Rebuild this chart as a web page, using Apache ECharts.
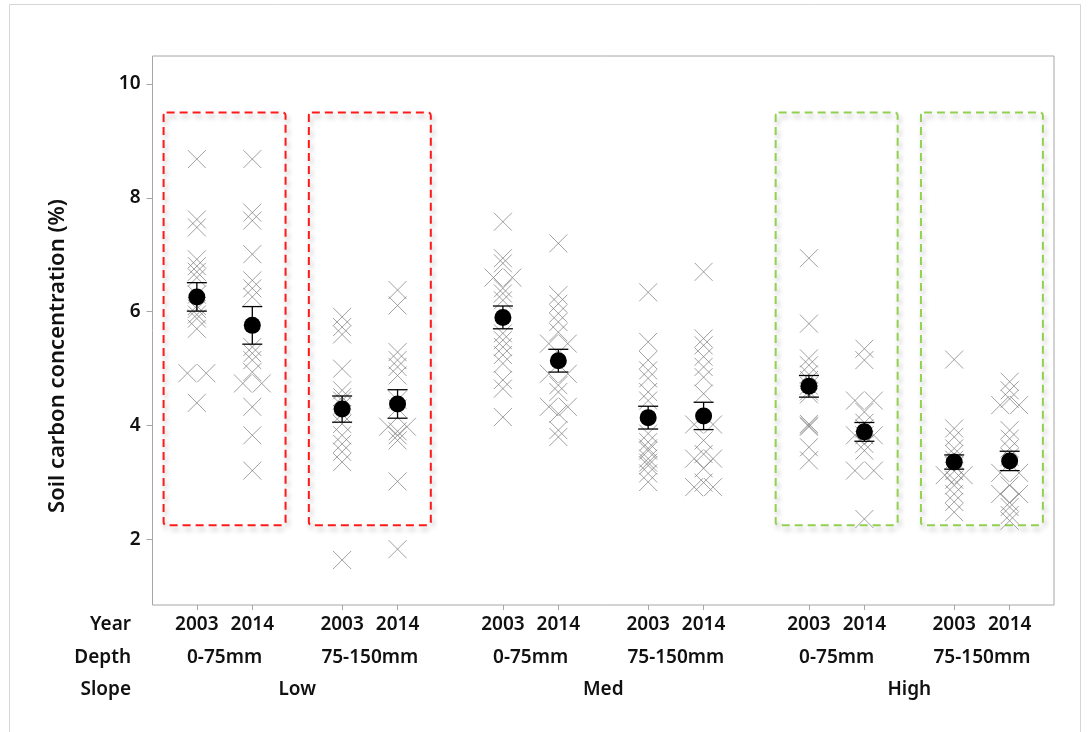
<!DOCTYPE html>
<html>
<head>
<meta charset="utf-8">
<script src="https://cdn.jsdelivr.net/npm/echarts@6/dist/echarts.min.js"></script>
<style>
  html, body { margin: 0; padding: 0; background: #fff; }
  #chart { width: 1088px; height: 732px; }
</style>
</head>
<body>
<div id="chart"></div>
<script>
// ---- Data --------------------------------------------------------------
// Grouping factors (plotting order: Slope > Depth > Year)
const slopes = ['Low', 'Med', 'High'];
const depths = ['0-75mm', '75-150mm'];
const years = ['2003', '2014'];

// Individual soil carbon readings (%) for each Slope / Depth / Year group
const lowShallow2003  = [8.68, 7.62, 7.48, 6.92, 6.80, 6.70, 6.60, 6.30, 6.10, 6.05, 5.95, 5.88, 5.70, 4.92, 4.92, 4.40];
const lowShallow2014  = [8.68, 7.74, 7.60, 7.01, 6.55, 6.41, 6.26, 5.38, 5.27, 5.15, 4.94, 4.74, 4.74, 4.33, 3.83, 3.21];
const lowDeep2003     = [5.91, 5.73, 5.60, 5.00, 4.62, 4.50, 4.44, 4.35, 4.20, 4.03, 3.83, 3.68, 3.54, 3.36, 1.64];
const lowDeep2014     = [6.38, 6.11, 5.29, 5.15, 5.03, 4.88, 4.45, 4.30, 3.98, 3.98, 3.90, 3.83, 3.74, 3.02, 1.83];
const medShallow2003  = [7.58, 6.94, 6.85, 6.60, 6.60, 6.41, 6.32, 6.20, 5.62, 5.50, 5.38, 5.24, 5.09, 4.80, 4.65, 4.15];
const medShallow2014  = [7.20, 6.29, 6.14, 5.97, 5.82, 5.64, 5.44, 5.44, 4.91, 4.91, 4.71, 4.59, 4.33, 4.33, 4.21, 3.92, 3.80];
const medDeep2003     = [6.34, 5.47, 5.15, 4.97, 4.83, 4.59, 4.44, 3.86, 3.71, 3.60, 3.56, 3.42, 3.35, 3.30, 3.16, 3.01];
const medDeep2014     = [6.70, 5.53, 5.41, 5.21, 5.03, 4.85, 4.56, 4.02, 4.02, 3.74, 3.50, 3.42, 3.42, 3.25, 3.00, 2.92, 2.92];
const highShallow2003 = [6.94, 5.79, 5.18, 5.06, 4.90, 4.80, 4.70, 4.60, 4.55, 4.03, 4.00, 3.98, 3.62, 3.39];
const highShallow2014 = [5.35, 5.15, 4.44, 4.44, 4.24, 4.05, 3.95, 3.83, 3.83, 3.83, 3.68, 3.56, 3.21, 3.21, 2.36];
const highDeep2003    = [5.16, 3.95, 3.80, 3.60, 3.50, 3.40, 3.30, 3.20, 3.13, 3.13, 3.05, 2.95, 2.80, 2.66, 2.48];
const highDeep2014    = [4.77, 4.62, 4.47, 4.36, 4.36, 3.92, 3.77, 3.60, 3.45, 3.17, 3.17, 2.95, 2.80, 2.80, 2.65, 2.57, 2.43, 2.33];

const groupValues = [
  lowShallow2003, lowShallow2014, lowDeep2003, lowDeep2014,
  medShallow2003, medShallow2014, medDeep2003, medDeep2014,
  highShallow2003, highShallow2014, highDeep2003, highDeep2014
];

// Group means (%) and their standard errors
const groupMeans = [6.26, 5.76, 4.29, 4.38, 5.90, 5.14, 4.14, 4.17, 4.69, 3.89, 3.36, 3.38];
const groupSE    = [0.25, 0.33, 0.23, 0.25, 0.20, 0.20, 0.20, 0.24, 0.19, 0.165, 0.125, 0.17];

// Y-axis tick labels
const yTicks = [2, 4, 6, 8, 10];

// ---- Layout ------------------------------------------------------------
const DEPTH_STEP = 2.62;   // offset between depth blocks within a slope
const SLOPE_STEP = 5.52;   // offset between slope blocks
const JITTER = 0.17;       // horizontal spread for tied readings
const BOX_HALF = 1.1;      // half width of highlight boxes
const BOX_TOP = 9.5, BOX_BOTTOM = 2.25;
const highlight = { Low: '#ff1a1a', High: '#92d050' };

const FONT = "'Noto Sans', 'Open Sans', 'DejaVu Sans', sans-serif";
const TXT = '#111';
const FS = 19;

function groupPos(i) {
  const s = Math.floor(i / 4), d = Math.floor(i / 2) % 2, y = i % 2;
  return y + d * DEPTH_STEP + s * SLOPE_STEP;
}
const yearPos = groupValues.map((_, i) => groupPos(i));
const yearNames = groupValues.map((_, i) => years[i % 2]);
const pairPos = [], pairNames = [], pairSlope = [];
for (let s = 0; s < slopes.length; s++) {
  for (let d = 0; d < depths.length; d++) {
    pairPos.push(0.5 + d * DEPTH_STEP + s * SLOPE_STEP);
    pairNames.push(depths[d]);
    pairSlope.push(slopes[s]);
  }
}
const slopePos = slopes.map((_, s) => (pairPos[2 * s] + pairPos[2 * s + 1]) / 2);

function nameAt(positions, names) {
  return v => {
    let best = 0;
    positions.forEach((p, k) => { if (Math.abs(p - v) < Math.abs(positions[best] - v)) best = k; });
    return names[best];
  };
}

// Individual readings, ties spread side by side
const pointData = [];
groupValues.forEach((vals, i) => {
  const count = {}, used = {};
  vals.forEach(v => { count[v] = (count[v] || 0) + 1; });
  vals.forEach(v => {
    const n = count[v], k = used[v] || 0;
    used[v] = k + 1;
    const off = n === 1 ? 0 : (-1 + 2 * k / (n - 1)) * JITTER;
    pointData.push([groupPos(i) + off, v]);
  });
});

const meanData = groupMeans.map((m, i) => [groupPos(i), m, groupSE[i]]);
const boxData = [];
pairPos.forEach((p, k) => { if (highlight[pairSlope[k]]) boxData.push([p, k]); });

// ---- Chart -------------------------------------------------------------
const chart = echarts.init(document.getElementById('chart'), null, { renderer: 'canvas' });

const xBase = {
  type: 'value', min: -0.8, max: 15.46, gridIndex: 0, position: 'bottom',
  axisLine: { show: false, onZero: false }, splitLine: { show: false }
};
const labelFont = { fontFamily: FONT, fontSize: FS, fontWeight: 600, color: TXT };

chart.setOption({
  animation: false,
  backgroundColor: '#fff',
  grid: {
    left: 152.5, top: 56, right: 34, bottom: 127,
    show: true, borderColor: '#a6a6a6', borderWidth: 1, backgroundColor: 'transparent'
  },
  xAxis: [
    Object.assign({}, xBase, {
      axisTick: { show: true, customValues: yearPos, length: 5, lineStyle: { color: '#a6a6a6' } },
      axisLabel: Object.assign({ customValues: yearPos, formatter: nameAt(yearPos, yearNames), margin: 10 }, labelFont)
    }),
    Object.assign({}, xBase, {
      offset: 33, axisTick: { show: false },
      axisLabel: Object.assign({ customValues: pairPos, formatter: nameAt(pairPos, pairNames), margin: 10 }, labelFont)
    }),
    Object.assign({}, xBase, {
      offset: 65, axisTick: { show: false },
      axisLabel: Object.assign({ customValues: slopePos, formatter: nameAt(slopePos, slopes), margin: 10 }, labelFont)
    })
  ],
  yAxis: {
    type: 'value', min: 0.85, max: 10.49, position: 'left',
    axisLine: { show: false, onZero: false }, splitLine: { show: false },
    axisTick: { show: true, customValues: yTicks, length: 6, lineStyle: { color: '#a6a6a6' } },
    axisLabel: Object.assign({ customValues: yTicks, margin: 12 }, labelFont)
  },
  graphic: [
    {
      type: 'rect', silent: true, z: -10,
      shape: { x: 9.5, y: 4.5, width: 1071, height: 760 },
      style: { fill: 'none', stroke: '#d6d6d6', lineWidth: 1 }
    },
    {
      type: 'text', silent: true,
      x: 58, y: 356, rotation: Math.PI / 2,
      style: {
        text: 'Soil carbon concentration (%)', align: 'center', verticalAlign: 'middle',
        font: '600 22px ' + FONT, fill: TXT
      }
    },
    ...['Year', 'Depth', 'Slope'].map((t, k) => ({
      type: 'text', silent: true,
      x: 131, y: 625 + k * 32.5,
      style: {
        text: t, align: 'right', verticalAlign: 'middle',
        font: '600 ' + FS + 'px ' + FONT, fill: TXT
      }
    }))
  ],
  series: [
    {
      // dashed highlight boxes
      type: 'custom', xAxisIndex: 0, silent: true, z: 1,
      data: boxData,
      encode: { x: 0 },
      renderItem: (params, api) => {
        const c = api.value(0);
        const color = highlight[pairSlope[api.value(1)]];
        const tl = api.coord([c - BOX_HALF, BOX_TOP]);
        const br = api.coord([c + BOX_HALF, BOX_BOTTOM]);
        return {
          type: 'rect',
          shape: { x: tl[0], y: tl[1], width: br[0] - tl[0], height: br[1] - tl[1], r: 3 },
          style: {
            fill: 'none', stroke: color, lineWidth: 2, lineDash: [8, 5],
            shadowBlur: 5, shadowColor: 'rgba(0,0,0,0.28)', shadowOffsetX: 2, shadowOffsetY: 4
          }
        };
      }
    },
    {
      // individual readings
      type: 'scatter', xAxisIndex: 0, z: 2, silent: true,
      symbol: 'path://M0,0L10,10M10,0L0,10', symbolSize: 18,
      itemStyle: { color: 'rgba(0,0,0,0)', borderColor: 'rgba(120,120,120,0.7)', borderWidth: 1, opacity: 1 },
      data: pointData
    },
    {
      // mean +/- standard error bars
      type: 'custom', xAxisIndex: 0, z: 3, silent: true,
      data: meanData,
      encode: { x: 0, y: 1 },
      renderItem: (params, api) => {
        const x = api.value(0), m = api.value(1), s = api.value(2);
        const top = api.coord([x, m + s]), bot = api.coord([x, m - s]);
        const cap = 10;
        const st = { stroke: '#000', lineWidth: 1.3 };
        return {
          type: 'group',
          children: [
            { type: 'line', shape: { x1: top[0], y1: top[1], x2: bot[0], y2: bot[1] }, style: st },
            { type: 'line', shape: { x1: top[0] - cap, y1: top[1], x2: top[0] + cap, y2: top[1] }, style: st },
            { type: 'line', shape: { x1: bot[0] - cap, y1: bot[1], x2: bot[0] + cap, y2: bot[1] }, style: st }
          ]
        };
      }
    },
    {
      // group means
      type: 'scatter', xAxisIndex: 0, z: 4, silent: true,
      symbol: 'circle', symbolSize: 17,
      itemStyle: { color: '#000', opacity: 1 },
      data: meanData.map(d => [d[0], d[1]])
    }
  ]
});
</script>
</body>
</html>
